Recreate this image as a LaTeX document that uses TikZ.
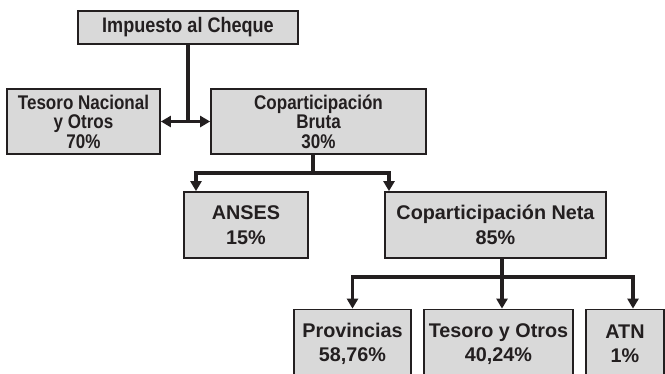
\documentclass[tikz,border=0pt]{standalone}
\usepackage{fontspec}
\setmainfont{Liberation Sans}
\newfontfamily\condfont[FakeStretch=0.86]{Liberation Sans}
\usetikzlibrary{arrows.meta}
\definecolor{boxfill}{RGB}{217,217,217}
\definecolor{ink}{RGB}{35,31,32}
\begin{document}
\begin{tikzpicture}[x=1pt,y=-1pt,
  box/.style={draw=ink,line width=1.8pt,fill=boxfill,text=ink,inner sep=0pt,align=center,
    minimum width=#1},
  topfont/.style={font=\condfont\bfseries\fontsize{19.8}{19.5}\selectfont},
  lowfont/.style={font=\bfseries\fontsize{19.8}{24.5}\selectfont},
  conn/.style={draw=ink,line width=3.2pt},
  arr/.style={conn,-{Triangle[width=11pt,length=10pt]}},
  darr/.style={conn,{Triangle[width=11pt,length=10pt]}-{Triangle[width=11pt,length=10pt]}}]
\useasboundingbox (0,0) rectangle (665,373);
\clip (0,0) rectangle (665,373);
\fill[white] (0,0) rectangle (665,373);
% nodes
\node[box=220pt,minimum height=33pt,font=\condfont\bfseries\fontsize{21}{21}\selectfont] (imp) at (188,27.5) {Impuesto al Cheque};
\node[box=153pt,minimum height=65pt,topfont] (tes) at (83.5,121.5) {Tesoro Nacional\\y Otros\\70\%};
\node[box=215pt,minimum height=65pt,topfont] (bru) at (318.5,121.5) {Coparticipación\\Bruta\\30\%};
\node[box=124pt,minimum height=66pt,lowfont] (ans) at (246,225) {ANSES\\15\%};
\node[box=221pt,minimum height=66pt,lowfont] (net) at (495.5,225) {Coparticipación Neta\\85\%};
\node[box=117pt,minimum height=69pt,lowfont] (prov) at (352.5,344) {Provincias\\58,76\%};
\node[box=149pt,minimum height=69pt,lowfont] (tyo) at (498.5,344) {Tesoro y Otros\\40,24\%};
\node[box=78pt,minimum height=69pt,lowfont] (atn) at (625,344) {ATN\\1\%};
% connectors
\coordinate (j1) at (188,121.5);
\draw[conn] (imp.south) -- (j1);
\draw[darr] (tes.east) -- (bru.west);
\coordinate (j2) at (313,173);
\draw[conn] ([xshift=-5.5pt]bru.south) -- (j2);
\draw[arr] (j2) -| ([xshift=-50pt]ans.north);
\draw[arr] (j2) -| ([xshift=-106.5pt]net.north);
\coordinate (j3) at (502,277);
\draw[conn] ([xshift=6.5pt]net.south) -- (j3);
\draw[arr] (j3) -| (prov.north);
\draw[arr] (j3) -- (j3 |- tyo.north);
\draw[arr] (j3) -| ([xshift=8pt]atn.north);
\end{tikzpicture}
\end{document}
